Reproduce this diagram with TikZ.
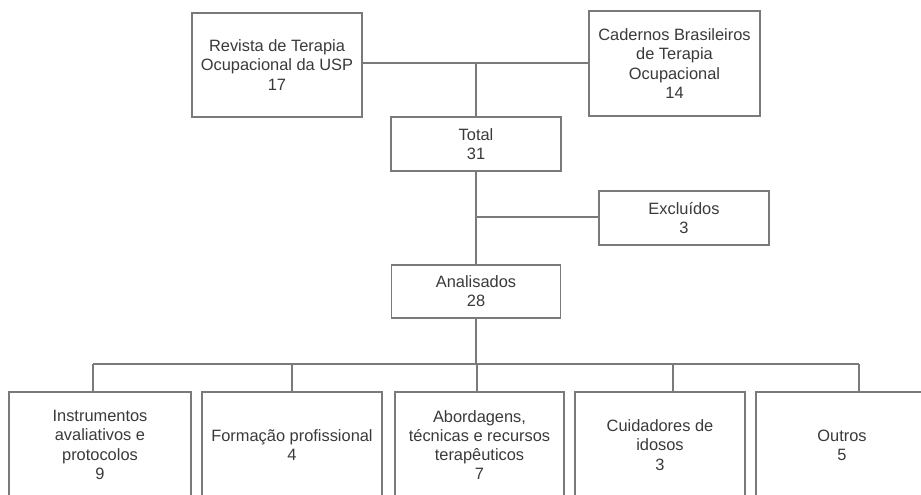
\documentclass[tikz,border=0pt]{standalone}
\usepackage{fontspec}
\setmainfont{Liberation Sans}
\definecolor{txt}{HTML}{3A3A3A}
\definecolor{ln}{HTML}{7A7A7A}
\begin{document}
\begin{tikzpicture}[x=1pt,y=-1pt,
  box/.style={draw=ln,line width=1.2pt,fill=white,text=txt,align=center,inner sep=0pt,
    font=\fontsize{16.4}{19.2}\selectfont},
  conn/.style={draw=ln,line width=1.2pt}]
\useasboundingbox (0,0) rectangle (921,495);
\clip (0,0) rectangle (921,495);
\fill[white] (0,0) rectangle (921,495);
% top boxes
\node[box,minimum width=170pt,minimum height=104pt] (rev) at (277,65) {Revista de Terapia\\Ocupacional da USP\\17};
\node[box,minimum width=171pt,minimum height=105pt] (cad) at (674.5,63.5) {Cadernos Brasileiros\\de Terapia\\Ocupacional\\14};
\node[box,minimum width=170pt,minimum height=54pt] (tot) at (476,144) {Total\\31};
\node[box,minimum width=170pt,minimum height=54pt] (exc) at (684,218) {Excluídos\\3};
\node[box,minimum width=169pt,minimum height=53pt] (ana) at (476,291.5) {Analisados\\28};
% bottom boxes
\node[box,minimum width=182pt,minimum height=106pt] (b1) at (100,445) {Instrumentos\\avaliativos e\\protocolos\\9};
\node[box,minimum width=180pt,minimum height=106pt] (b2) at (292,445) {Formação profissional\\4};
\node[box,minimum width=169pt,minimum height=106pt] (b3) at (479.5,445) {Abordagens,\\técnicas e recursos\\terapêuticos\\7};
\node[box,minimum width=170pt,minimum height=106pt] (b4) at (660,445) {Cuidadores de\\idosos\\3};
\node[box,minimum width=172pt,minimum height=106pt] (b5) at (842,445) {Outros\\5};
% junctions
\coordinate (j1) at (476,63);
\coordinate (j2) at (476,217);
\coordinate (bus) at (476,364);
\coordinate (d1) at (93,364);
\coordinate (d2) at (292,364);
\coordinate (d3) at (477,364);
\coordinate (d4) at (673,364);
\coordinate (d5) at (859,364);
% connectors
\draw[conn] (j1 -| rev.east) -- (j1 -| cad.west);
\draw[conn] (j1) -- (tot.north);
\draw[conn] (tot.south) -- (ana.north);
\draw[conn] (j2) -- (j2 -| exc.west);
\draw[conn] (ana.south) -- (bus);
\draw[conn] (d1) -- (d5);
\draw[conn] (d1) -- (d1 |- b1.north);
\draw[conn] (d2) -- (d2 |- b2.north);
\draw[conn] (d3) -- (d3 |- b3.north);
\draw[conn] (d4) -- (d4 |- b4.north);
\draw[conn] (d5) -- (d5 |- b5.north);
\end{tikzpicture}
\end{document}
